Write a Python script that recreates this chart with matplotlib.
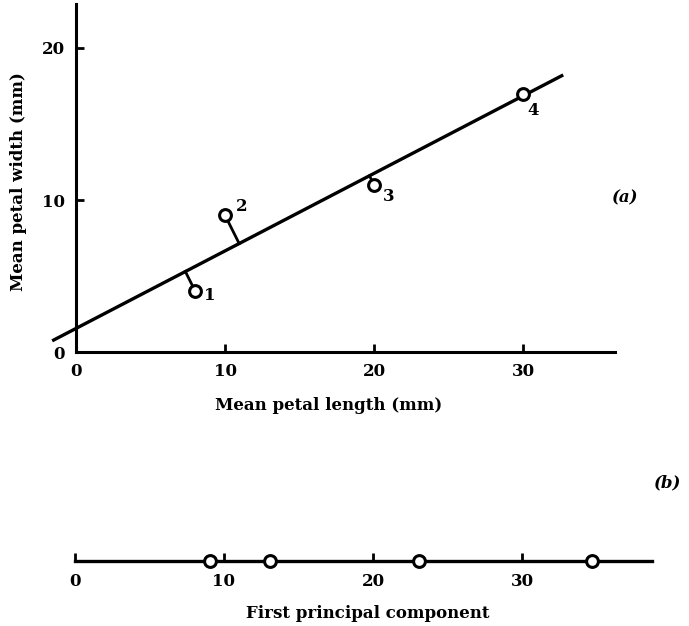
import numpy as np
import matplotlib
matplotlib.use('Agg')
import matplotlib.pyplot as plt

# (a) mean petal length / width of four species (mm)
petal_length = [8, 10, 20, 30]
petal_width = [4, 9, 11, 17]
point_labels = ['1', '2', '3', '4']
# fitted first principal axis
line_slope, line_icpt = 0.51, 1.55
line_x = [-1.6, 32.7]
# (b) scores on the first principal component
pc1_scores = [9.05, 13.1, 23.1, 34.7]

plt.rcParams['font.family'] = ['DejaVu Serif']
plt.rcParams['font.weight'] = 'bold'
plt.rcParams['axes.labelweight'] = 'bold'

W, H = 689, 626
fig = plt.figure(figsize=(W / 100, H / 100), dpi=100)


def px_box(left, right, bottom, top):
    return [left / W, 1 - bottom / H, (right - left) / W, (bottom - top) / H]


# ---- panel (a)
x0, xs = 76, 14.9
y0, ys = 352, 15.2
xlim = (-2, 37)
ylim = (-0.5, 22.9)
ax = fig.add_axes(px_box(x0 + xlim[0] * xs, x0 + xlim[1] * xs,
                         y0 - ylim[0] * ys, y0 - ylim[1] * ys))
ax.set_xlim(*xlim)
ax.set_ylim(*ylim)
for s in ['top', 'right']:
    ax.spines[s].set_visible(False)
for s in ['left', 'bottom']:
    ax.spines[s].set_position(('data', 0))
    ax.spines[s].set_linewidth(2.2)
ax.spines['bottom'].set_bounds(0, 36.2)
ax.spines['left'].set_bounds(0, 22.9)
ax.set_xticks([0, 10, 20, 30])
ax.set_yticks([0, 10, 20])
ax.tick_params(direction='in', length=6, width=2, labelsize=12, pad=8)
ax.patch.set_visible(False)

lx = np.array(line_x)
ax.plot(lx, line_icpt + line_slope * lx, color='black', lw=2.4,
        solid_capstyle='butt', clip_on=False, zorder=2)

# perpendiculars from points to the axis
px = np.array(petal_length, float)
py = np.array(petal_width, float)
u = np.array([1, line_slope]) / np.hypot(1, line_slope)
t = px * u[0] + (py - line_icpt) * u[1]
fx, fy = t * u[0], line_icpt + t * u[1]
for a, b, c, d in zip(px, py, fx, fy):
    ax.plot([a, c], [b, d], color='black', lw=2, zorder=2)

ax.plot(px, py, 'o', ms=8.5, mfc='white', mec='black', mew=2.2, zorder=3)

lab_off = [(1.0, -0.3), (1.1, 0.6), (1.0, -0.75), (0.7, -1.1)]
for x, y, s, (dx, dy) in zip(px, py, point_labels, lab_off):
    ax.text(x + dx, y + dy, s, fontsize=12, ha='center', va='center')

ax.set_xlabel('Mean petal length (mm)', fontsize=12)
ax.xaxis.set_label_coords((329 - 46.2) / 581.1, (359.6 - 397) / 355.6)
ax.set_ylabel('Mean petal width (mm)', fontsize=12)
ax.yaxis.set_label_coords((27 - 46.2) / 581.1, (359.6 - 182) / 355.6)

fig.text(625 / W, 1 - 198 / H, '(a)', fontsize=12, style='italic',
         ha='center', va='center')
fig.text(668 / W, 1 - 483 / H, '(b)', fontsize=12, style='italic',
         ha='center', va='center')

# ---- panel (b)
bx0, bxs = 75, 14.9
bxlim = (-2, 40)
axb = fig.add_axes(px_box(bx0 + bxlim[0] * bxs, bx0 + bxlim[1] * bxs, 581, 541))
axb.set_xlim(*bxlim)
axb.set_ylim(-1, 1)
for s in ['top', 'right', 'left']:
    axb.spines[s].set_visible(False)
axb.spines['bottom'].set_position(('data', 0))
axb.spines['bottom'].set_linewidth(2.4)
axb.spines['bottom'].set_bounds(0, 38.7)
axb.set_yticks([])
axb.set_xticks([0, 10, 20, 30])
axb.tick_params(direction='in', length=6, width=2, labelsize=12, pad=9)
axb.patch.set_visible(False)
axb.plot(pc1_scores, np.zeros(len(pc1_scores)), 'o', ms=8.5, mfc='white',
         mec='black', mew=2.2, zorder=3, clip_on=False)
axb.set_xlabel('First principal component', fontsize=12)
axb.xaxis.set_label_coords((368 - 45.2) / 625.8, (581 - 605) / 40)

fig.savefig('out.png', dpi=100)
